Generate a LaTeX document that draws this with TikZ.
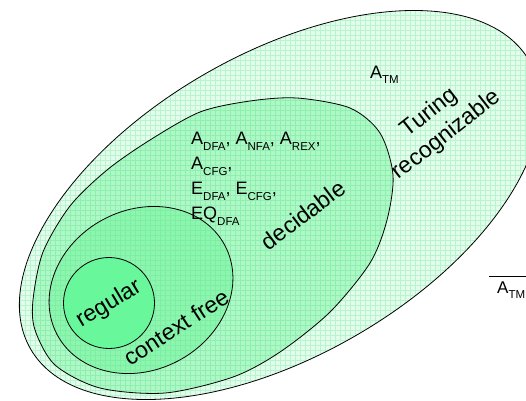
\documentclass[tikz,border=0pt]{standalone}
\usepackage{fontspec}
\setmainfont{Liberation Sans}
% lowered subscript in a smaller size
\newcommand{\lsub}[1]{\raisebox{-5.5pt}{\fontsize{11.5}{11.5}\selectfont #1}}

\definecolor{turbg}{HTML}{E4FCEC}
\definecolor{turln}{HTML}{B6F5CD}
\definecolor{decbg}{HTML}{AEF7C6}
\definecolor{decln}{HTML}{8EEFAE}
\definecolor{cfbg}{HTML}{8DF5AF}
\definecolor{cfln}{HTML}{7AF0A0}
\definecolor{regbg}{HTML}{68F79A}

\tikzset{
  outline/.style={draw=black, line width=0.8pt},
  gridline/.style={line width=0.45pt},
  biglabel/.style={font=\fontsize{23}{28}\selectfont, inner sep=0pt},
  smalllabel/.style={font=\fontsize{18}{21.7}\selectfont, inner sep=0pt},
}

\begin{document}
\begin{tikzpicture}[x=1pt, y=-1pt]
\useasboundingbox (0,0) rectangle (526,400);
\clip (0,0) rectangle (526,400);

% region outlines
\path[save path=\turingpath, rotate around={30:(280,205)}]
  (280,205) ellipse [x radius=288pt, y radius=151pt];
\path[save path=\decpath] plot[smooth cycle] coordinates {
  (297,98) (350,108) (380,133) (393,175) (387,220) (370,263) (330,312)
  (280,352) (233,377) (165,393) (100,388) (55,365) (35,330) (33,300)
  (43,252) (70,206) (107,170) (150,140) (200,112) (250,101)};
\path[save path=\cfpath, rotate around={28:(141,290)}]
  (141,290) ellipse [x radius=95pt, y radius=80pt];
\path[save path=\regpath] (109,303) circle [radius=45.5pt];

% Turing recognizable
\begin{scope}
  \clip[use path=\turingpath];
  \fill[turbg] (0,0) rectangle (526,400);
  \draw[gridline, turln] (0,400) grid[step=5pt] (526,0);
\end{scope}
% decidable
\begin{scope}
  \clip[use path=\decpath];
  \fill[decbg] (0,0) rectangle (526,400);
  \draw[gridline, decln] (0,400) grid[step=5pt] (526,0);
\end{scope}
% context free
\begin{scope}
  \clip[use path=\cfpath];
  \fill[cfbg] (0,0) rectangle (526,400);
  \draw[gridline, cfln] (0,400) grid[step=5pt] (526,0);
\end{scope}
% regular
\fill[regbg, use path=\regpath];

\draw[outline, use path=\turingpath];
\draw[outline, use path=\decpath];
\draw[outline, use path=\cfpath];
\draw[outline, use path=\regpath];

% labels
\node[biglabel, rotate=31] (reg) at (109,304) {regular};
\node[biglabel, rotate=33] (cf) at (176,327) {context free};
\node[biglabel, rotate=37] (dec) at (303,215) {decidable};
\node[biglabel, rotate=38, align=center] (tur) at (438,124) {Turing\\recognizable};
\node[smalllabel, anchor=base west] (atm) at (370,78) {A\lsub{TM}};
\node[smalllabel, anchor=north west, align=left] (declist) at (191,132)
  {A\lsub{DFA}, A\lsub{NFA}, A\lsub{REX},\\[3.4pt]
   A\lsub{CFG},\\[3.4pt]
   E\lsub{DFA}, E\lsub{CFG},\\[3.4pt]
   EQ\lsub{DFA}};
\node[font=\fontsize{17}{17}\selectfont, inner sep=0pt, anchor=base west]
  (atmbar) at (497,293) {A\lsub{TM}};
\draw[line width=0.8pt] ([xshift=-8pt, yshift=5pt]atmbar.north west)
  -- ([xshift=30pt, yshift=5pt]atmbar.north east);
\end{tikzpicture}
\end{document}
